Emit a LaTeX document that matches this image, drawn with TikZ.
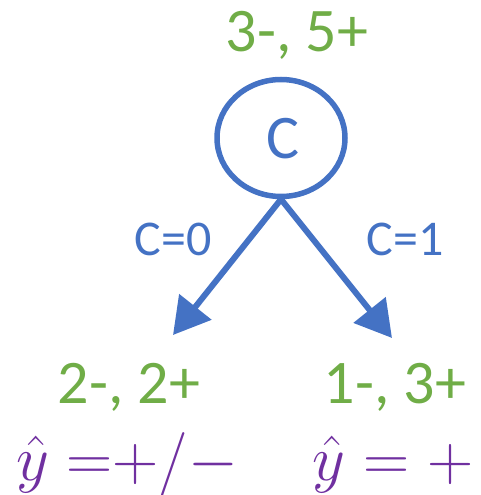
\RequirePackage{fix-cm}
\documentclass[tikz,border=0pt]{standalone}
\usepackage{fontspec}
\setmainfont{Carlito}
\usetikzlibrary{shapes.geometric,arrows.meta}
\definecolor{cblue}{HTML}{4472C4}
\definecolor{cgreen}{HTML}{70AD47}
\definecolor{cpurple}{HTML}{7030A0}
\tikzset{
  countlbl/.style={text=cgreen,font=\fontsize{62}{70}\selectfont,anchor=base,inner sep=0pt},
  edgelbl/.style={text=cblue,font=\fontsize{50}{60}\selectfont,anchor=base,inner sep=0pt},
  predlbl/.style={text=cpurple,font=\fontsize{64}{70}\selectfont,anchor=base,inner sep=0pt},
  featnode/.style={ellipse,draw=cblue,line width=5.5pt,inner sep=0pt,minimum width=128pt,minimum height=117pt},
  arr/.style={draw=cblue,line width=6pt,-{Triangle[length=36pt,width=40pt]}}
}
\begin{document}
\begin{tikzpicture}[x=1pt,y=-1pt]
\useasboundingbox (0,0) rectangle (480,495);
\node[featnode] (root) at (281,138) {};
\node[text=cblue,font=\fontsize{62}{70}\selectfont,anchor=base,inner sep=0pt] (rootlbl) at (283,158) {C};
\node[countlbl] (rootcnt) at (297,52) {3-, 5+};
\coordinate (lt) at (173,335);
\coordinate (rt) at (392,338);
\draw[arr] (root.south) -- (lt);
\draw[arr] (root.south) -- (rt);
\node[edgelbl] (e0) at (173,255) {C=0};
\node[edgelbl] (e1) at (405,255) {C=1};
\node[countlbl] (lcnt) at (129,403) {2-, 2+};
\node[countlbl] (rcnt) at (395,403) {1-, 3+};
\node[predlbl] (lpred) at (127,480) {$\hat{y}\;{=}{+}/{-}$};
\node[predlbl] (rpred) at (393,480) {$\hat{y}=+$};
\end{tikzpicture}
\end{document}
